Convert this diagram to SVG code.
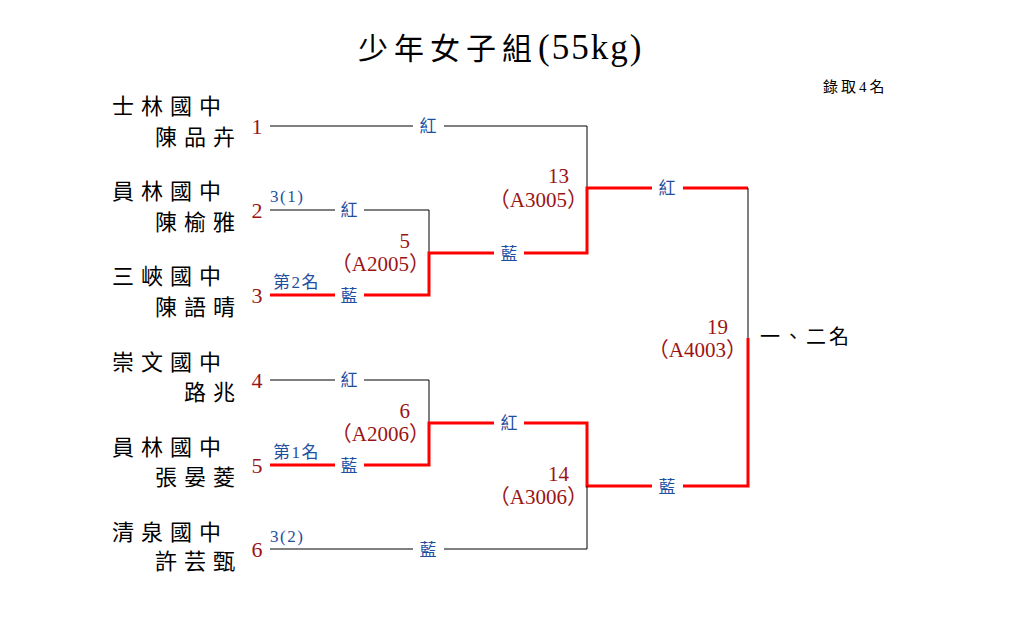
<svg xmlns="http://www.w3.org/2000/svg" width="1010" height="635" viewBox="0 0 1010 635">
<style>
text{font-family:"Liberation Serif","Noto Sans CJK TC",serif}
.school,.name{font-size:22px;fill:#000;letter-spacing:7px}
.seed{font-size:22px;fill:#9b1414;text-anchor:middle}
.mt{font-size:21px;fill:#9b1414;text-anchor:end}
.lab{font-size:17px;fill:#1f4f9f;text-anchor:middle}
.note{font-size:17px;fill:#1f4f9f;letter-spacing:1.5px}
.b{stroke:#000;stroke-width:1;fill:none}
.r{stroke:#ff0000;stroke-width:3;fill:none}
</style>
<rect width="1010" height="635" fill="#fff"/>
<text x="358" y="59" font-size="30"><tspan letter-spacing="6">少年女子組</tspan><tspan font-size="35" letter-spacing="2">(55kg)</tspan></text>
<text x="823" y="92" font-size="15" letter-spacing="3">錄取4名</text>

<g id="p1"><text class="school" x="112" y="114">士林國中</text><text class="name" x="155" y="145">陳品卉</text><text class="seed" x="257" y="134">1</text></g>
<g id="p2"><text class="school" x="112" y="199">員林國中</text><text class="name" x="155" y="230">陳榆雅</text><text class="seed" x="257" y="218">2</text><text class="note" x="270" y="202">3(1)</text></g>
<g id="p3"><text class="school" x="112" y="284">三峽國中</text><text class="name" x="155" y="315">陳語晴</text><text class="seed" x="257" y="303">3</text><text class="note" x="273" y="288">第2名</text></g>
<g id="p4"><text class="school" x="112" y="370">崇文國中</text><text class="name" x="184" y="400">路兆</text><text class="seed" x="257" y="388">4</text></g>
<g id="p5"><text class="school" x="112" y="455">員林國中</text><text class="name" x="155" y="485">張晏菱</text><text class="seed" x="257" y="473">5</text><text class="note" x="273" y="458">第1名</text></g>
<g id="p6"><text class="school" x="112" y="540">清泉國中</text><text class="name" x="155" y="569">許芸甄</text><text class="seed" x="257" y="557">6</text><text class="note" x="270" y="542">3(2)</text></g>

<g id="m5"><text class="mt" x="410" y="248">5</text><text class="mt" x="430" y="271">（A2005）</text></g>
<g id="m6"><text class="mt" x="410" y="418">6</text><text class="mt" x="430" y="441">（A2006）</text></g>
<g id="m13"><text class="mt" x="569" y="183">13</text><text class="mt" x="588" y="207">（A3005）</text></g>
<g id="m14"><text class="mt" x="569" y="481">14</text><text class="mt" x="588" y="504">（A3006）</text></g>
<g id="m19"><text class="mt" x="728" y="334">19</text><text class="mt" x="747" y="357">（A4003）</text></g>
<g id="final"><text x="760" y="344" font-size="20" letter-spacing="3">一、二名</text></g>

<g id="connectors">
<path class="b" d="M270 126H413M444 126H587V188"/>
<path class="b" d="M270 210H335M364 210H429V253"/>
<path class="r" d="M270 295H335M364 295H429V253H494M524 253H587V188H652M683 188H748"/>
<path class="b" d="M748 188V338"/>
<path class="b" d="M270 380H335M364 380H429V423"/>
<path class="r" d="M270 465H335M364 465H429V423H494M524 423H587V486H652M683 486H748V338"/>
<path class="b" d="M270 549H413M444 549H587V486"/>
<text class="lab" x="428" y="132">紅</text>
<text class="lab" x="349" y="216">紅</text>
<text class="lab" x="349" y="302">藍</text>
<text class="lab" x="509" y="260">藍</text>
<text class="lab" x="667" y="194">紅</text>
<text class="lab" x="349" y="386">紅</text>
<text class="lab" x="349" y="472">藍</text>
<text class="lab" x="509" y="429">紅</text>
<text class="lab" x="667" y="493">藍</text>
<text class="lab" x="428" y="556">藍</text>
</g>
</svg>
